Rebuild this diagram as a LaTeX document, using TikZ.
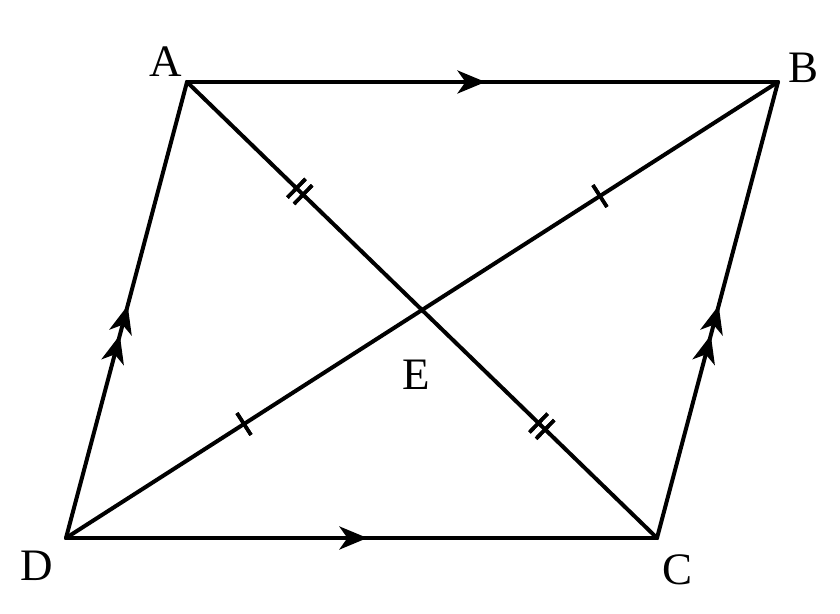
\documentclass[tikz,border=0pt]{standalone}
\usepackage{fontspec}
\setmainfont{Liberation Serif}
\usetikzlibrary{arrows.meta,decorations.markings}

\begin{document}
\begin{tikzpicture}[x=0.5pt, y=-0.5pt, line width=2pt, line cap=round,
  lbl/.style={font=\fontsize{22.5}{22.5}\selectfont, inner sep=0pt},
  sidetip/.tip={Stealth[length=14pt, width=11.5pt, inset=4pt]},
  onearrow/.style={postaction={decorate}, decoration={markings,
    mark=at position #1 with {\arrow{sidetip}}}},
  twoarrows/.style={postaction={decorate}, decoration={markings,
    mark=at position #1 with {\arrow{sidetip}},
    mark=at position #1-0.065 with {\arrow{sidetip}}}},
  onetick/.style={postaction={decorate}, decoration={markings,
    mark=at position #1 with {\draw[line width=1.8pt, line cap=butt] (0,-6.5pt) -- (0,6.5pt);}}},
  twoticks/.style={postaction={decorate}, decoration={markings,
    mark=at position #1 with {\draw[line width=1.8pt, line cap=butt]
      (-2.3pt,-6.5pt) -- (-2.3pt,6.5pt) (2.3pt,-6.5pt) -- (2.3pt,6.5pt);}}}]
\useasboundingbox (0,0) rectangle (840,614);
% corners of the parallelogram
\coordinate (A) at (187,82);
\coordinate (B) at (778,82);
\coordinate (C) at (657,538);
\coordinate (D) at (66,538);
% sides
\draw[onearrow=0.505] (A) -- (B);
\draw[onearrow=0.51] (D) -- (C);
\draw[twoarrows=0.51] (D) -- (A);
\draw[twoarrows=0.51] (C) -- (B);
% diagonals
\draw[onetick=0.25, onetick=0.75] (D) -- (B);
\draw[twoticks=0.24, twoticks=0.755] (A) -- (C);
% labels
\node[lbl] (labA) at (166,62) {A};
\node[lbl] (labB) at (803,68) {B};
\node[lbl] (labC) at (677,570) {C};
\node[lbl] (labD) at (37,566) {D};
\node[lbl] (labE) at (416,375) {E};
\end{tikzpicture}
\end{document}
